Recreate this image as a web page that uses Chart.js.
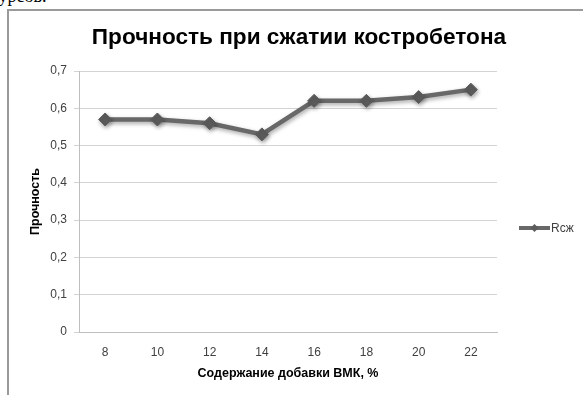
<!DOCTYPE html>
<html lang="ru">
<head>
<meta charset="UTF-8">
<title>Прочность при сжатии костробетона</title>
<script src="https://cdn.jsdelivr.net/npm/chart.js"></script>
<style>
    html, body { margin: 0; padding: 0; background: #fff; overflow: hidden; }
    body { width: 583px; height: 395px; position: relative; }
    .textoTopo {
        position: absolute; left: -10px; top: -13px;
        font: 18px "Liberation Serif", serif; line-height: 18px; color: #000;
    }
    .quadro {
        position: absolute; left: 7px; top: 9px; width: 600px; height: 400px;
        border-left: 2px solid #9a9a9a; border-top: 2px solid #9a9a9a;
    }
    #grafico { position: absolute; left: 9px; top: 11px; }
</style>
</head>
<body>
<div class="textoTopo">курсов.</div>
<div class="quadro"></div>
<canvas id="grafico" width="574" height="384"></canvas>

<script>
    // содержание добавки ВМК, % и прочность
    var categorias = ['8', '10', '12', '14', '16', '18', '20', '22'];
    var rcz = [0.57, 0.57, 0.56, 0.53, 0.62, 0.62, 0.63, 0.65];
    var nomeSerie = 'Rсж';
    var titulo = 'Прочность при сжатии костробетона';

    var fonte = '"Liberation Sans", Arial, sans-serif';

    // título centrado sobre o quadro inteiro (não só sobre a área do gráfico)
    var tituloTopo = {
        id: 'tituloTopo',
        afterDraw(chart) {
            var c = chart.ctx;
            c.save();
            c.fillStyle = '#000';
            c.font = 'bold 22.6px ' + fonte;
            c.textAlign = 'center';
            c.textBaseline = 'middle';
            c.fillText(titulo, 290, 27);
            c.restore();
        }
    };

    // sombra suave sob a linha e os marcadores
    var sombra = {
        id: 'sombra',
        beforeDatasetsDraw(chart) {
            var c = chart.ctx;
            c.save();
            c.shadowColor = 'rgba(0,0,0,0.35)';
            c.shadowBlur = 4;
            c.shadowOffsetX = 1;
            c.shadowOffsetY = 2;
        },
        afterDatasetsDraw(chart) {
            chart.ctx.restore();
        }
    };

    // legenda à direita, desenhada à mão
    var legenda = {
        id: 'legenda',
        afterDraw(chart) {
            var c = chart.ctx;
            var ds = chart.data.datasets[0];
            var x0 = 510, x1 = 541, y = 217;
            c.save();
            c.strokeStyle = ds.borderColor;
            c.lineWidth = 4;
            c.beginPath();
            c.moveTo(x0, y);
            c.lineTo(x1, y);
            c.stroke();
            var xm = (x0 + x1) / 2, r = 4;
            c.fillStyle = ds.pointBackgroundColor;
            c.beginPath();
            c.moveTo(xm, y - r);
            c.lineTo(xm + r, y);
            c.lineTo(xm, y + r);
            c.lineTo(xm - r, y);
            c.closePath();
            c.fill();
            c.fillStyle = '#404040';
            c.font = '12px ' + fonte;
            c.textBaseline = 'middle';
            c.fillText(ds.label, x1 + 1, y + 1);
            c.restore();
        }
    };

    var ctx = document.getElementById('grafico').getContext('2d');

    new Chart(ctx, {
        type: 'line',
        data: {
            labels: categorias,
            datasets: [{
                label: nomeSerie,
                data: rcz,
                borderColor: '#686868',
                borderWidth: 4.5,
                pointStyle: 'rectRot',
                pointRadius: 6.5,
                pointBackgroundColor: '#5c5c5c',
                pointBorderColor: '#5c5c5c',
                pointBorderWidth: 1,
                tension: 0
            }]
        },
        options: {
            responsive: false,
            animation: false,
            layout: { padding: { left: 0, right: 86, top: 60, bottom: 0 } },
            scales: {
                x: {
                    offset: true,
                    grid: { display: false, drawTicks: false },
                    border: { display: true, color: '#bfbfbf', width: 1 },
                    ticks: { color: '#404040', font: { family: fonte, size: 12 }, padding: 13, maxRotation: 0 },
                    title: {
                        display: true,
                        text: 'Содержание добавки ВМК, %',
                        color: '#000',
                        font: { family: fonte, size: 12.5, weight: 'bold' },
                        padding: { top: 0, bottom: 14 }
                    },
                    afterFit(scale) { scale.height = 63; }
                },
                y: {
                    min: 0,
                    max: 0.7,
                    ticks: {
                        stepSize: 0.1,
                        color: '#404040',
                        font: { family: fonte, size: 12 },
                        padding: 7,
                        callback: function (v) { return (Math.round(v * 10) / 10).toString().replace('.', ','); }
                    },
                    grid: { color: '#d4d4d4', lineWidth: 1, tickLength: 5 },
                    border: { display: true, color: '#bfbfbf', width: 1 },
                    title: {
                        display: true,
                        text: 'Прочность',
                        color: '#000',
                        font: { family: fonte, size: 12.5, weight: 'bold' },
                        padding: { top: 19, bottom: 0 }
                    },
                    afterFit(scale) { scale.width = 70; }
                }
            },
            plugins: {
                legend: { display: false },
                tooltip: { enabled: false },
                title: { display: false }
            }
        },
        plugins: [sombra, legenda, tituloTopo]
    });
</script>
</body>
</html>
